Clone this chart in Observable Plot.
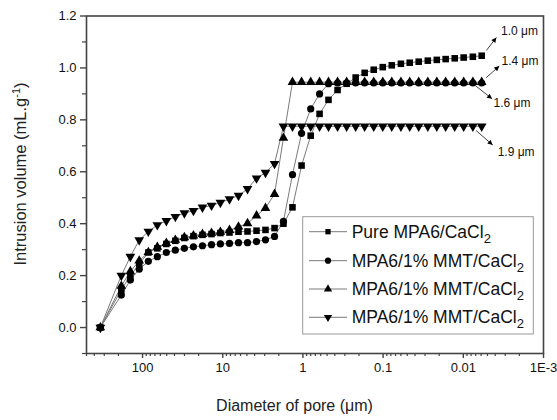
<!DOCTYPE html>
<html><head><meta charset="utf-8">
<script src="https://cdn.jsdelivr.net/npm/d3@7"></script>
<script src="https://cdn.jsdelivr.net/npm/@observablehq/plot@0.6"></script>
<style>
body{margin:0;background:#fff}
svg{font-family:"Liberation Sans",Arial,sans-serif}
</style>
</head><body><div id="chart"></div>
<script>
// Pore diameters (µm), shared by all series
const diameters = [336, 184, 142, 110, 84.7, 65.4, 50.5, 39.0, 30.1, 23.2, 17.9, 13.8, 10.7, 8.24, 6.36, 4.91, 3.79, 2.93, 2.26, 1.75, 1.35, 1.04, 0.80, 0.62, 0.48, 0.37, 0.285, 0.22, 0.17, 0.131, 0.101, 0.078, 0.060, 0.0466, 0.036, 0.0277, 0.0214, 0.0166, 0.0128, 0.0099, 0.0076, 0.0059];

// Intrusion volume (mL/g) per series
const pureMPA6 = [0, 0.145, 0.20, 0.244, 0.289, 0.305, 0.322, 0.334, 0.345, 0.352, 0.357, 0.36, 0.364, 0.366, 0.369, 0.37, 0.373, 0.376, 0.383, 0.40, 0.463, 0.624, 0.739, 0.823, 0.877, 0.915, 0.939, 0.963, 0.981, 0.993, 1.003, 1.01, 1.016, 1.02, 1.024, 1.028, 1.031, 1.034, 1.037, 1.04, 1.043, 1.047];
const mmtCircle = [0, 0.125, 0.183, 0.225, 0.255, 0.273, 0.289, 0.298, 0.305, 0.311, 0.315, 0.319, 0.322, 0.324, 0.327, 0.327, 0.331, 0.338, 0.351, 0.409, 0.589, 0.748, 0.842, 0.90, 0.939, 0.942, 0.942, 0.942, 0.942, 0.942, 0.942, 0.942, 0.942, 0.942, 0.942, 0.942, 0.942, 0.942, 0.942, 0.942, 0.942, 0.942];
const mmtTriUp = [0, 0.16, 0.216, 0.257, 0.29, 0.31, 0.325, 0.337, 0.347, 0.354, 0.36, 0.364, 0.368, 0.375, 0.388, 0.401, 0.431, 0.46, 0.514, 0.73, 0.945, 0.945, 0.945, 0.945, 0.945, 0.945, 0.945, 0.945, 0.945, 0.945, 0.945, 0.945, 0.945, 0.945, 0.945, 0.945, 0.945, 0.945, 0.945, 0.945, 0.945, 0.945];
const mmtTriDown = [0, 0.20, 0.273, 0.337, 0.37, 0.395, 0.411, 0.427, 0.441, 0.45, 0.463, 0.47, 0.481, 0.495, 0.508, 0.534, 0.575, 0.597, 0.631, 0.775, 0.775, 0.775, 0.775, 0.775, 0.775, 0.775, 0.775, 0.775, 0.775, 0.775, 0.775, 0.775, 0.775, 0.775, 0.775, 0.775, 0.775, 0.775, 0.775, 0.775, 0.775, 0.775];

const seriesNames = ["Pure MPA6/CaCl", "MPA6/1% MMT/CaCl", "MPA6/1% MMT/CaCl", "MPA6/1% MMT/CaCl"];
const seriesSub = ["2", "2", "2", "2"];

// Axis ticks
const xTicks = [100, 10, 1, 0.1, 0.01, 0.001];
const xTickLabels = ["100", "10", "1", "0.1", "0.01", "1E-3"];
const yTicks = [0, 0.2, 0.4, 0.6, 0.8, 1.0, 1.2];
const yMinorTicks = [-0.1, 0.1, 0.3, 0.5, 0.7, 0.9, 1.1];

// Annotations (data units)
const annLabels = ["1.0 μm", "1.4 μm", "1.6 μm", "1.9 μm"];
const annFromX = [0.00516, 0.00521, 0.00708, 0.00693];
const annFromY = [1.067, 0.962, 0.932, 0.759];
const annToX = [0.00387, 0.00356, 0.00438, 0.0043];
const annToY = [1.117, 1.007, 0.881, 0.703];
const annTextX = [0.00339, 0.00333, 0.00419, 0.00373];
const annTextY = [1.142, 1.026, 0.865, 0.675];

// ---- build ----
const xMinor = [];
for (let e = -3; e <= 2; e++) for (let k = 2; k <= 9; k++) { const v = k * Math.pow(10, e); if (v <= 500) xMinor.push(+v.toPrecision(3)); }
const labelFor = new Map(xTicks.map((t, i) => [t, xTickLabels[i]]));

const series = [
  {values: pureMPA6, symbol: "square", r: 3.7, rotate: 0},
  {values: mmtCircle, symbol: "circle", r: 3.6, rotate: 0},
  {values: mmtTriUp, symbol: "triangle", r: 3.6, rotate: 0},
  {values: mmtTriDown, symbol: "triangle", r: 3.6, rotate: 180}
].map(s => ({...s, data: diameters.map((d, i) => ({d, v: s.values[i]}))}));

const ann = annLabels.map((label, i) => ({label, x1: annFromX[i], y1: annFromY[i], x2: annToX[i], y2: annToY[i], tx: annTextX[i], ty: annTextY[i]}));

const axisColor = "#444";
const svg = Plot.plot({
  width: 557, height: 420,
  marginLeft: 86, marginRight: 14, marginTop: 15.5, marginBottom: 67,
  style: {fontFamily: '"Liberation Sans", Arial, sans-serif', color: "#222", background: "#fff"},
  x: {type: "log", domain: [500, 0.001]},
  y: {domain: [-0.1, 1.2]},
  marks: [
    ...series.map(s => Plot.line(s.data, {x: "d", y: "v", stroke: "#7a7a7a", strokeWidth: 1})),
    ...series.map(s => Plot.dot(s.data, {x: "d", y: "v", symbol: s.symbol, r: s.r, rotate: s.rotate, fill: "#000", stroke: "none"})),
    Plot.link(ann, {x1: "x1", y1: "y1", x2: "x2", y2: "y2", stroke: "#444", strokeWidth: 1}),
    Plot.text(ann, {x: "tx", y: "ty", text: "label", textAnchor: "start", fontSize: 12, fill: "#111"}),
    Plot.frame({stroke: axisColor, strokeWidth: 1.6}),
    Plot.axisX({ticks: xTicks, tickSize: 5, tickPadding: 4, tickFormat: d => labelFor.get(d), fontSize: 13, label: null, stroke: axisColor, strokeWidth: 1.4, fill: "#111"}),
    Plot.axisX({ticks: xMinor, tickSize: 3, label: null, stroke: axisColor, strokeWidth: 1.2, fill: "none"}),
    Plot.axisY({ticks: yTicks, tickSize: 6, tickPadding: 4, tickFormat: d3.format(".1f"), fontSize: 13, label: null, stroke: axisColor, strokeWidth: 1.4, fill: "#111"}),
    Plot.axisY({ticks: yMinorTicks, tickSize: 4, label: null, stroke: axisColor, strokeWidth: 1.2, fill: "none"})
  ]
});

const S = d3.select(svg);
// filled arrowheads
S.append("defs").append("marker")
  .attr("id", "ah").attr("viewBox", "0 0 10 10").attr("refX", 10).attr("refY", 5)
  .attr("markerWidth", 7).attr("markerHeight", 5).attr("markerUnits", "userSpaceOnUse").attr("orient", "auto")
  .append("path").attr("d", "M0,0L10,5L0,10z").attr("fill", "#000");
S.selectAll('g[aria-label="link"] path').attr("marker-end", "url(#ah)");

// axis titles
S.append("text").attr("x", 294.5).attr("y", 411).attr("text-anchor", "middle")
  .attr("font-size", 16).attr("fill", "#222").text("Diameter of pore (μm)");
const yt = S.append("text").attr("transform", "translate(26,174) rotate(-90)").attr("text-anchor", "middle")
  .attr("font-size", 16.5).attr("fill", "#222");
yt.append("tspan").text("Intrusion volume (mL.g");
yt.append("tspan").attr("font-size", 11).attr("baseline-shift", "super").text("-1");
yt.append("tspan").text(")");

// legend
const lg = S.append("g").attr("text-anchor", "start");
lg.append("rect").attr("x", 302.7).attr("y", 216.7).attr("width", 230.6).attr("height", 117.3)
  .attr("fill", "#fff").attr("stroke", "#999").attr("stroke-width", 1);
const rowY = [231.7, 260.7, 289, 317.3];
const legSym = [
  {type: d3.symbolSquare, size: 28, rot: 0},
  {type: d3.symbolCircle, size: 30, rot: 0},
  {type: d3.symbolTriangle, size: 30, rot: 0},
  {type: d3.symbolTriangle, size: 30, rot: 180}
];
seriesNames.forEach((name, i) => {
  const y = rowY[i];
  lg.append("line").attr("x1", 309).attr("x2", 347).attr("y1", y).attr("y2", y).attr("stroke", "#7a7a7a").attr("stroke-width", 1);
  lg.append("path").attr("d", d3.symbol(legSym[i].type, legSym[i].size)())
    .attr("transform", `translate(328,${y}) rotate(${legSym[i].rot})`).attr("fill", "#000");
  const t = lg.append("text").attr("x", 351.7).attr("y", y + 6).attr("text-anchor", "start")
    .attr("font-size", 17.5).attr("fill", "#111");
  t.append("tspan").text(name);
  t.append("tspan").attr("font-size", 13).attr("dy", 5).text(seriesSub[i]);
});

document.getElementById("chart").appendChild(svg);
</script>
</body></html>
